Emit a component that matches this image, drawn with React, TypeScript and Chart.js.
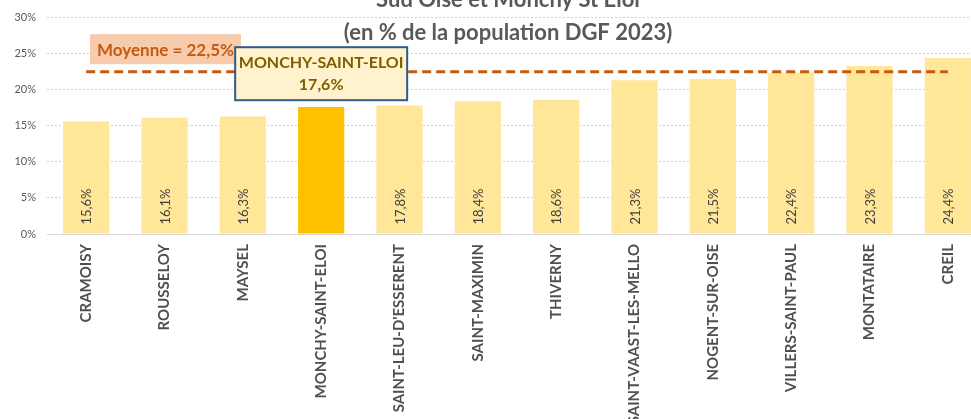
import React, { useEffect, useRef } from "react";
import { Chart, registerables } from "chart.js";

Chart.register(...registerables);

const categories = [
  "CRAMOISY",
  "ROUSSELOY",
  "MAYSEL",
  "MONCHY-SAINT-ELOI",
  "SAINT-LEU-D'ESSERENT",
  "SAINT-MAXIMIN",
  "THIVERNY",
  "SAINT-VAAST-LES-MELLO",
  "NOGENT-SUR-OISE",
  "VILLERS-SAINT-PAUL",
  "MONTATAIRE",
  "CREIL",
];
const values = [15.6, 16.1, 16.3, 17.6, 17.8, 18.4, 18.6, 21.3, 21.5, 22.4, 23.3, 24.4];
const averageValue = 22.5;
const highlightIndex = 3;
const yMin = 0;
const yMax = 30;
const yStep = 5;
const titleLines = ["Sud Oise et Monchy St Eloi", "(en % de la population DGF 2023)"];
const averageLabel = "Moyenne = 22,5%";

const FONT = "Lato, 'Open Sans', sans-serif";
const fmt = (v: number) => v.toFixed(1).replace(".", ",") + "%";

const overlayPlugin = {
  id: "overlay",
  afterDatasetsDraw(chart: any) {
    const { ctx, chartArea } = chart;
    const xs = chart.scales.x;
    const ys = chart.scales.y;
    const meta = chart.getDatasetMeta(1);
    ctx.save();

    // data labels inside bars, rotated (highlighted bar is labelled by the callout)
    ctx.font = `13px ${FONT}`;
    ctx.fillStyle = "#404040";
    ctx.textAlign = "left";
    ctx.textBaseline = "middle";
    meta.data.forEach((bar: any, i: number) => {
      if (i === highlightIndex) return;
      ctx.save();
      ctx.translate(bar.x + 1, bar.base - 9);
      ctx.rotate(-Math.PI / 2);
      ctx.fillText(fmt(values[i]), 0, 0);
      ctx.restore();
    });

    // title
    ctx.fillStyle = "#595959";
    ctx.font = `bold 22px ${FONT}`;
    ctx.textAlign = "center";
    ctx.textBaseline = "alphabetic";
    const tx = 508;
    ctx.fillText(titleLines[0], tx, chartArea.top - 11);
    ctx.fillText(titleLines[1], tx, chartArea.top + 22);

    // average label box
    const avgY = ys.getPixelForValue(averageValue);
    ctx.font = `bold 17px ${FONT}`;
    const tw = ctx.measureText(averageLabel).width;
    const bw = tw + 14;
    const bh = 30;
    const bx = xs.getPixelForValue(1) + 1 - bw / 2;
    const by = avgY - 7.5 - bh;
    ctx.fillStyle = "#F8CBAD";
    ctx.fillRect(bx, by, bw, bh);
    ctx.fillStyle = "#C55A11";
    ctx.textAlign = "center";
    ctx.textBaseline = "middle";
    ctx.fillText(averageLabel, bx + bw / 2, by + bh / 2 + 1);

    // highlight callout
    const hx = meta.data[highlightIndex].x;
    const w2 = 172;
    const h2 = 53;
    const x2 = hx - w2 / 2;
    const y2 = avgY + 2 - h2 / 2;
    ctx.fillStyle = "#FFF2CC";
    ctx.fillRect(x2, y2, w2, h2);
    ctx.strokeStyle = "#2F5A8A";
    ctx.lineWidth = 2;
    ctx.strokeRect(x2, y2, w2, h2);
    ctx.fillStyle = "#7F6000";
    ctx.font = `bold 16px ${FONT}`;
    ctx.fillText(categories[highlightIndex], hx, y2 + 16);
    ctx.fillText(fmt(values[highlightIndex]), hx, y2 + 38);

    ctx.restore();
  },
};

export default function App() {
  const ref = useRef<HTMLCanvasElement | null>(null);
  useEffect(() => {
    if (!ref.current) return;
    const chart = new Chart(ref.current, {
      type: "bar",
      data: {
        labels: categories,
        datasets: [
          {
            type: "line",
            data: categories.map(() => averageValue),
            borderColor: "#C55A11",
            borderWidth: 3,
            borderDash: [9, 5],
            pointRadius: 0,
            fill: false,
            order: 0,
          } as any,
          {
            type: "bar",
            data: values,
            backgroundColor: values.map((_, i) => (i === highlightIndex ? "#FFC000" : "#FFE699")),
            categoryPercentage: 1,
            barPercentage: 0.59,
            order: 1,
          },
        ],
      },
      options: {
        responsive: false,
        animation: false,
        devicePixelRatio: 1,
        layout: { padding: { top: 16, left: 0, right: 0, bottom: 0 } },
        plugins: {
          legend: { display: false },
          tooltip: { enabled: false },
          title: { display: false },
        },
        scales: {
          x: {
            grid: { display: false, drawTicks: false },
            border: { display: true, color: "#D9D9D9", width: 1 },
            ticks: {
              autoSkip: false,
              minRotation: 90,
              maxRotation: 90,
              padding: 10,
              color: "#505050",
              font: { family: FONT, size: 15, weight: "bold" },
            },
            afterFit: (s: any) => {
              s.height = 185;
            },
          },
          y: {
            min: yMin,
            max: yMax,
            ticks: {
              stepSize: yStep,
              padding: 11,
              color: "#595959",
              font: { family: FONT, size: 11 },
              callback: (v: any) => v + "%",
            },
            grid: { color: "#D0D0D0", lineWidth: 1, drawTicks: false },
            border: { display: false, dash: [2, 2] },
            afterFit: (s: any) => {
              s.width = 47;
            },
          },
        },
      },
      plugins: [overlayPlugin],
    });
    return () => chart.destroy();
  }, []);

  return (
    <div
      style={{
        position: "fixed",
        left: 0,
        top: 0,
        width: 971,
        height: 419,
        overflow: "hidden",
        background: "#fff",
      }}
    >
      <canvas ref={ref} width={987} height={419} style={{ display: "block", width: 987, height: 419 }} />
    </div>
  );
}
